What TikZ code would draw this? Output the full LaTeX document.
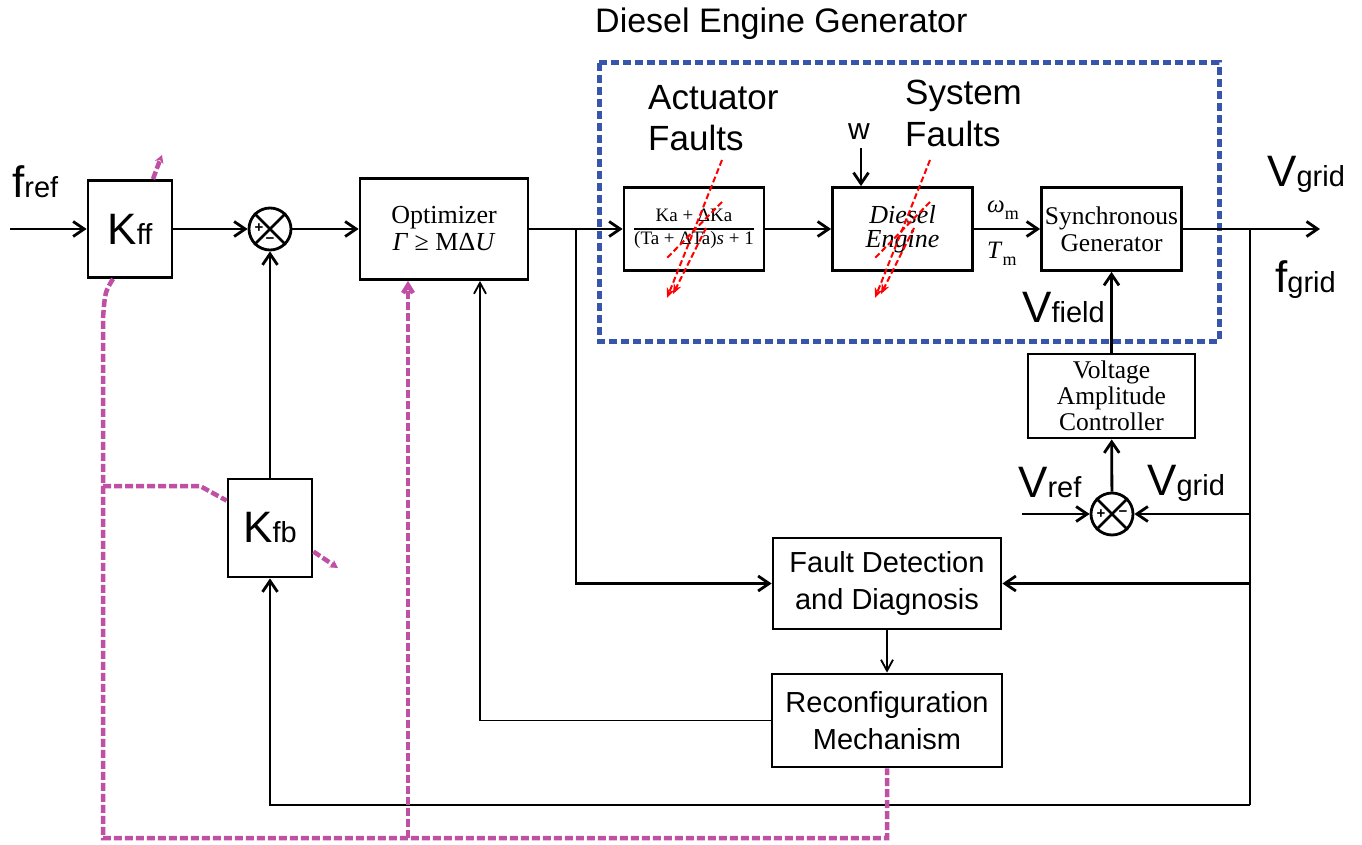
\documentclass[tikz,border=0pt]{standalone}
\usepackage{fontspec}
\setmainfont{Liberation Sans}
\newfontfamily\seriffont{Liberation Serif}
\usetikzlibrary{arrows.meta,calc}

\definecolor{ctrlpink}{RGB}{192,80,164}
\definecolor{degblue}{RGB}{55,85,170}
\newcommand{\biglabel}[2]{{\fontsize{44}{44}\selectfont #1}{\fontsize{29}{29}\selectfont #2}}

\begin{document}
\begin{tikzpicture}[x=1pt, y=-1pt,
  block/.style={draw, line width=2.8pt, inner sep=0pt, align=center},
  sumnode/.style={draw, circle, line width=2.8pt, minimum size=42pt, inner sep=0pt},
  arrow/.style={-{Straight Barb[length=11pt,width=15pt]}, line width=2.8pt},
  thinarrow/.style={-{Straight Barb[length=11pt,width=12pt]}, line width=1.8pt},
  wire/.style={line width=2.8pt},
  fault/.style={red, dash pattern=on 6pt off 3pt, line width=2pt},
  ctrl/.style={draw=ctrlpink, line width=4.5pt, dash pattern=on 8pt off 3pt},
  tag/.style={inner sep=0pt, anchor=base west},
  sign/.style={inner sep=0pt, font=\bfseries\fontsize{15}{15}\selectfont},
]
\useasboundingbox (0,0) rectangle (1362,845);

% === Main loop ===
\coordinate (in) at (10,229);
\node[block, minimum width=84pt, minimum height=97pt] (kff) at (130,229) {\biglabel{K}{ff}};
\node[sumnode] (sum1) at (270,229) {};
\node[block, minimum width=168pt, minimum height=101pt, font={\seriffont\fontsize{26}{27}\selectfont}] (opt) at (444,229) {Optimizer\\\textit{Γ} ≥ MΔ\textit{U}};
\coordinate (b1) at (576,229);

% === Diesel engine generator ===
\node[block, minimum width=140pt, minimum height=83pt] (act) at (694,229) {{\seriffont\fontsize{19}{21}\selectfont\setlength{\arrayrulewidth}{1.8pt}\begin{tabular}{@{}c@{}}Ka + ΔKa\\\hline (Ta + ΔTa)\textit{s} + 1\end{tabular}}};
\node[block, minimum width=140pt, minimum height=83pt, font={\seriffont\itshape\fontsize{26}{24}\selectfont}] (die) at (902.5,229) {Diesel\\Engine};
\node[block, minimum width=140pt, minimum height=83pt, font={\seriffont\fontsize{25.5}{27}\selectfont}] (syn) at (1111.5,229) {Synchronous\\Generator};
\coordinate (b2) at (1250,229);
\coordinate (out) at (1320,229);
\coordinate (wtop) at (861,148);
\draw[degblue, line width=5pt, dash pattern=on 8pt off 4pt] (599,63) rectangle (1219,341);

% === Voltage loop ===
\node[block, minimum width=167pt, minimum height=84pt, font={\seriffont\fontsize{25.5}{26}\selectfont}] (vac) at (1111.5,396) {Voltage\\Amplitude\\Controller};
\node[sumnode] (sum2) at (1112,514) {};
\coordinate (vin) at (1022,514);

% === Fault handling ===
\node[block, minimum width=228pt, minimum height=91pt, font={\fontsize{29}{37}\selectfont}] (fdd) at (887,583.5) {Fault Detection\\and Diagnosis};
\node[block, minimum width=230pt, minimum height=93pt, font={\fontsize{29}{37}\selectfont}] (rec) at (887,720.5) {Reconfiguration\\Mechanism};
\node[block, minimum width=84pt, minimum height=98pt] (kfb) at (270,528) {\biglabel{K}{fb}};
\coordinate (bot) at (1250,805);

\foreach \s in {sum1,sum2} {
  \draw[line width=2.8pt] (\s.45) -- (\s.225) (\s.135) -- (\s.315);
}
\node[sign] at ([xshift=-11pt,yshift=1pt]sum1) {+};
\node[sign] at ([yshift=-12pt]sum1) {−};
\node[sign] at ([xshift=-11pt]sum2) {+};
\node[sign] at ([xshift=11pt]sum2) {−};

\draw[arrow] (in) -- (kff);
\draw[arrow] (kff) -- (sum1);
\draw[arrow] (sum1) -- (opt);
\draw[arrow] (opt) -- (act);
\draw[arrow] (act) -- (die);
\draw[arrow] (die) -- (syn);
\draw[arrow] (syn) -- (out);
\draw[arrow] (wtop) -- (wtop |- die.north);
\draw[arrow] (vac) -- (syn);
\draw[arrow] (sum2) -- (vac);
\draw[arrow] (vin) -- (sum2);
\draw[arrow] (b2 |- sum2) -- (sum2);
\draw[wire] (b2) -- (bot);
\draw[arrow] (bot) -| (kfb);
\draw[arrow] (kfb) -- (sum1);
\draw[arrow] (b2 |- fdd) -- (fdd);
\draw[arrow] (b1) |- (fdd);
\draw[thinarrow] (fdd.south) -- (rec.north);
\draw[thinarrow] (rec.west) -| ([xshift=36pt]opt.south);

% === Labels ===
\node[tag] (fref) at (12,198) {\biglabel{f}{ref}};
\node[tag] (vgridout) at (1267,187) {\biglabel{V}{grid}};
\node[tag] (fgrid) at (1275,292) {\biglabel{f}{grid}};
\node[tag] (vfield) at (1022,322) {\biglabel{V}{field}};
\node[tag] (vref) at (1018,497) {\biglabel{V}{ref}};
\node[tag] (vgridin) at (1147,495) {\biglabel{V}{grid}};
\node[tag, font=\fontsize{34}{34}\selectfont] (title) at (595,33) {Diesel Engine Generator};
\node[tag, font=\fontsize{35}{35}\selectfont] (actf1) at (648,110) {Actuator};
\node[tag, font=\fontsize{35}{35}\selectfont] (actf2) at (648,151) {Faults};
\node[tag, font=\fontsize{35}{35}\selectfont] (sysf1) at (905,105) {System};
\node[tag, font=\fontsize{35}{35}\selectfont] (sysf2) at (905,147) {Faults};
\node[tag, font=\fontsize{30}{30}\selectfont] (w) at (848,140) {w};
\node[tag, font={\seriffont\fontsize{25}{25}\selectfont}] (omega) at (987,212) {\textit{ω}\raisebox{-7pt}{\fontsize{18}{18}\selectfont m}};
\node[tag, font={\seriffont\fontsize{25}{25}\selectfont}] (torque) at (987,258) {\textit{T}\raisebox{-7pt}{\fontsize{18}{18}\selectfont m}};

% === Fault arrows ===
\foreach \dx in {0,208} {
  \draw[fault, -{Stealth[length=10pt,width=8pt]}] (722+\dx,160) -- (667+\dx,298);
  \draw[fault] (722+\dx,202) -- (667+\dx,258);
  \draw[fault, -{Stealth[length=10pt,width=8pt]}] (706+\dx,228) -- (673+\dx,294);
}

% === Reconfiguration signals ===
\coordinate (ctrlcorner) at (103,838);
\draw[ctrl, -{Stealth[length=8pt,width=9pt]}] ([xshift=23pt]kff.north) .. controls (157,168) .. (162,155);
\draw[ctrl] ([xshift=-17pt]kff.south) .. controls (105,292) .. (103,318) -- (ctrlcorner) -| (rec.south);
\draw[ctrl, -{Straight Barb[length=8pt,width=10pt]}] ([xshift=-36pt]opt.south |- ctrlcorner) -- ([xshift=-36pt]opt.south);
\draw[ctrl] (103,486) -- (200,486) -- ([yshift=-23pt]kfb.north west);
\draw[ctrl, -{Stealth[length=8pt,width=9pt]}] ([yshift=-74pt]kfb.north east) -- (338,568);

\end{tikzpicture}
\end{document}
